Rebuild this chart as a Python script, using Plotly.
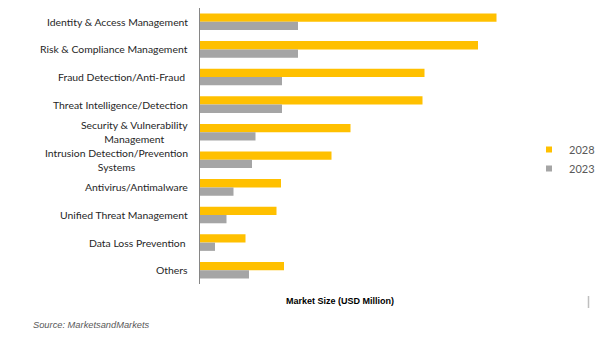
import plotly.graph_objects as go

categories = [
    "Identity & Access Management",
    "Risk & Compliance Management",
    "Fraud Detection/Anti-Fraud ",
    "Threat Intelligence/Detection",
    "Security & Vulnerability<br>Management",
    "Intrusion Detection/Prevention<br>Systems",
    "Antivirus/Antimalware",
    "Unified Threat Management",
    "Data Loss Prevention ",
    "Others",
]
years = ["2028", "2023"]
values_2028 = [296.5, 278, 224.5, 222.5, 150.5, 131.5, 81, 76.5, 45.5, 84]
values_2023 = [98, 98, 82, 82, 55.5, 52, 33.5, 26.5, 15, 49]

YELLOW = "#FFC000"
GREY = "#A5A5A5"
TEXT = "#262626"

L, R, T, B = 200, 5, 8, 53
W = 600 - L - R
H = 337 - T - B


def px(xp):
    return (xp - L) / W


def py(yp):
    return (337 - B - yp) / H


fig = go.Figure()
for name, vals, col in [(years[0], values_2028, YELLOW), (years[1], values_2023, GREY)]:
    fig.add_trace(go.Bar(y=categories, x=vals, name=name, orientation="h",
                         marker=dict(color=col, line=dict(width=0)), showlegend=False))
for name, col in [(years[0], YELLOW), (years[1], GREY)]:
    fig.add_trace(go.Scatter(x=[None], y=[None], mode="markers", name=name,
                             marker=dict(symbol="square", size=6, color=col)))

annotations = []
for c in categories:
    annotations.append(dict(
        text=c, xref="paper", x=0, xanchor="right", xshift=-10,
        yref="y", y=c, yanchor="middle", showarrow=False, align="center",
        font=dict(family="Lato, Open Sans, sans-serif", size=10.4, color=TEXT),
    ))
annotations.append(dict(
    text="<b>Market Size (USD Million)</b>", xref="paper", yref="paper",
    x=px(340), y=py(300.5), xanchor="center", yanchor="middle",
    showarrow=False,
    font=dict(family="Liberation Sans Narrow, Arial Narrow, Liberation Sans, Arial, sans-serif",
              size=9, color="#000000"),
))
annotations.append(dict(
    text="<i>Source: MarketsandMarkets</i>", xref="paper", yref="paper",
    x=px(31), y=py(325), xanchor="left", yanchor="middle",
    showarrow=False,
    font=dict(family="Liberation Sans, Arial, sans-serif", size=9.3, color="#595959"),
))

fig.update_layout(
    width=600, height=337,
    margin=dict(l=L, r=R, t=T, b=B, autoexpand=False),
    paper_bgcolor="white", plot_bgcolor="white",
    barmode="group", bargap=0.4, bargroupgap=0,
    showlegend=True,
    legend=dict(x=px(529), y=py(159), xanchor="left", yanchor="middle",
                traceorder="normal",
                font=dict(family="Lato, Open Sans, sans-serif", size=11, color="#595959"),
                itemwidth=30, tracegroupgap=0, bgcolor="rgba(0,0,0,0)"),
    annotations=annotations,
    shapes=[dict(type="line", xref="paper", yref="paper",
                 x0=px(588.5), x1=px(588.5),
                 y0=py(296), y1=py(308),
                 line=dict(color="#BFBFBF", width=1.5))],
    xaxis=dict(range=[0, W], showticklabels=False, showgrid=False, zeroline=False,
               showline=False, ticks=""),
    yaxis=dict(autorange="reversed", showticklabels=False, showgrid=False, zeroline=False,
               showline=True, linecolor="#868686", linewidth=1, ticks=""),
)

fig.write_html("out.html")
